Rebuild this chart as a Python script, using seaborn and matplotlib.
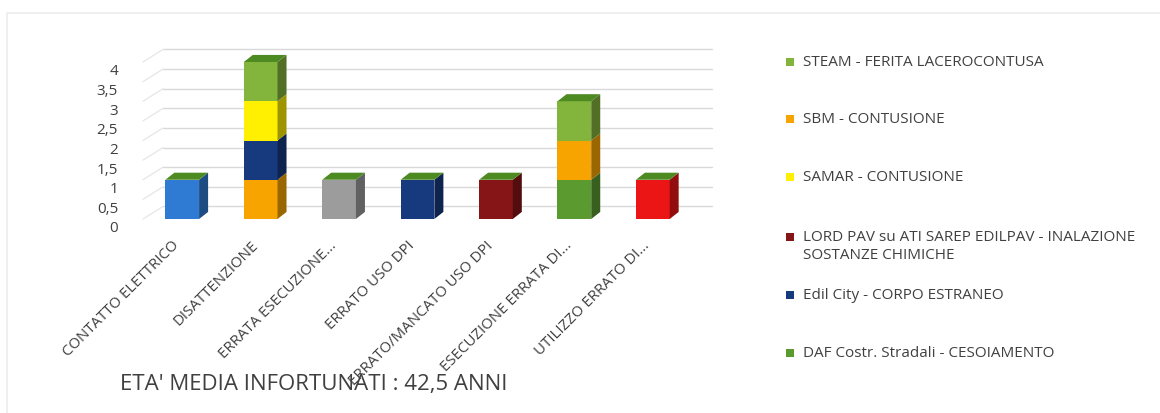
import numpy as np
import pandas as pd
import matplotlib
matplotlib.use("Agg")
import matplotlib.pyplot as plt
from matplotlib.patches import Polygon, Rectangle
import matplotlib.transforms as mtransforms
from matplotlib.colors import to_rgb
import seaborn as sns

# ---------------- data ----------------
categories = ["CONTATTO ELETTRICO", "DISATTENZIONE", "ERRATA ESECUZIONE...",
              "ERRATO USO DPI", "ERRATO/MANCATO USO DPI", "ESECUZIONE ERRATA DI...",
              "UTILIZZO ERRATO DI..."]

# series in stacking order (bottom -> top)
series_names = ["DAF Costr. Stradali - CESOIAMENTO",
                "SBM - CONTUSIONE",
                "Edil City - CORPO ESTRANEO",
                "LORD PAV su ATI SAREP EDILPAV - INALAZIONE\nSOSTANZE CHIMICHE",
                "SAMAR - CONTUSIONE",
                "STEAM - FERITA LACEROCONTUSA",
                "serie_contatto", "serie_errata", "serie_utilizzo"]
daf     = [0, 0, 0, 0, 0, 1, 0]
sbm     = [0, 1, 0, 0, 0, 1, 0]
edil    = [0, 1, 0, 1, 0, 0, 0]
lordpav = [0, 0, 0, 0, 1, 0, 0]
samar   = [0, 1, 0, 0, 0, 0, 0]
steam   = [0, 1, 0, 0, 0, 1, 0]
s_cont  = [1, 0, 0, 0, 0, 0, 0]
s_err   = [0, 0, 1, 0, 0, 0, 0]
s_util  = [0, 0, 0, 0, 0, 0, 1]
series_values = [daf, sbm, edil, lordpav, samar, steam, s_cont, s_err, s_util]
series_colors = ["#5B9A2E", "#F7A400", "#173A7E", "#861517", "#FFEF00",
                 "#83B53C", "#2F7AD2", "#9C9C9C", "#EC1515"]
legend_order = [5, 1, 4, 3, 2, 0]   # as shown in the legend (top -> bottom)

yticks = [0, 0.5, 1, 1.5, 2, 2.5, 3, 3.5, 4]
ytick_labels = ["0", "0,5", "1", "1,5", "2", "2,5", "3", "3,5", "4"]
footer = "ETA' MEDIA INFORTUNATI : 42,5 ANNI"

# ---------------- figure ----------------
sns.set_theme(style="white")
plt.rcParams["font.family"] = ["Open Sans", "DejaVu Sans"]
W, H = 1160, 414
fig = plt.figure(figsize=(W / 100, H / 100), dpi=100)
fig.patch.set_facecolor("white")

# faint chart frame
fig.patches.append(Rectangle((7 / W, -0.01), 1.1, (H - 14) / H + 0.01,
                             transform=fig.transFigure, fill=False,
                             edgecolor="#ECECEC", linewidth=1.2))

ax = fig.add_axes([143 / W, (H - 220) / H, 549 / W, 4.6 * 39.25 / H])
ax.set_facecolor("none")
ax.set_xlim(-0.5, 6.5)
ax.set_ylim(0, 4.6)
for s in ax.spines.values():
    s.set_visible(False)

bar_w = 0.43
ddx, ddy = 0.115, 0.18      # bar depth (data units)
wdx, wdy = 0.255, 0.32      # back-wall offset (data units)
grid_c = "#D9D9D9"

# gridlines on back wall + diagonal floor edge
for v in yticks:
    ax.plot([-0.5 + wdx, 6.5 + wdx], [v + wdy, v + wdy], color=grid_c, lw=1.0,
            zorder=0, clip_on=False)
    ax.plot([-0.5, -0.5 + wdx], [v, v + wdy], color="#E6E6E6", lw=0.9,
            zorder=0, clip_on=False)

def darker(c, f=0.62):
    r, g, b = to_rgb(c)
    return (r * f, g * f, b * f)

df_base = pd.DataFrame({"cat": categories})
bottoms = np.zeros(len(categories))
for name, vals, col in zip(series_names, series_values, series_colors):
    vals = np.array(vals, dtype=float)
    d = df_base.assign(val=vals)
    sns.barplot(data=d, x="cat", y="val", order=categories, color=col,
                saturation=1, width=bar_w, bottom=bottoms, ax=ax,
                edgecolor="none", linewidth=0, zorder=3)
    # side faces
    for i, v in enumerate(vals):
        if v <= 0:
            continue
        xr = i + bar_w / 2
        b, t = bottoms[i], bottoms[i] + v
        ax.add_patch(Polygon([(xr, b), (xr + ddx, b + ddy), (xr + ddx, t + ddy), (xr, t)],
                             closed=True, facecolor=darker(col), edgecolor="none",
                             zorder=3))
    bottoms = bottoms + vals

# top faces (dark green)
for i, t in enumerate(bottoms):
    xl, xr = i - bar_w / 2, i + bar_w / 2
    ax.add_patch(Polygon([(xl, t), (xr, t), (xr + ddx, t + ddy), (xl + ddx, t + ddy)],
                         closed=True, facecolor="#4E8A22", edgecolor="none", zorder=4))

# axes ticks
ax.set_xlabel("")
ax.set_ylabel("")
ax.set_yticks(yticks)
ax.set_yticklabels(ytick_labels, fontsize=11, color="#404040")
ax.tick_params(axis="y", length=0, pad=18)
ax.set_xticks(range(len(categories)))
ax.set_xticklabels(categories, rotation=45, ha="right", rotation_mode="anchor",
                   fontsize=10.8, color="#404040", va="center")
ax.tick_params(axis="x", length=0, pad=17)
off = mtransforms.ScaledTranslation(0, -7 / 100, fig.dpi_scale_trans)
for lab in ax.get_yticklabels():
    lab.set_transform(lab.get_transform() + off)
offx = mtransforms.ScaledTranslation(-5 / 100, 0, fig.dpi_scale_trans)
for lab in ax.get_xticklabels():
    lab.set_transform(lab.get_transform() + offx)

# legend (manual, to keep original spacing)
leg_y = [63, 120, 178, 238, 296, 354]
for yy, idx in zip(leg_y, legend_order):
    fig.patches.append(Rectangle((786 / W, (H - yy - 4) / H), 8 / W, 8 / H,
                                 transform=fig.transFigure,
                                 facecolor=series_colors[idx], edgecolor="none"))
    fig.text(803 / W, (H - yy + 8) / H, series_names[idx], fontsize=11,
             color="#404040", ha="left", va="top", linespacing=1.3)

fig.text(120 / W, (H - 385) / H, footer, fontsize=16, color="#404040",
         ha="left", va="center", zorder=10)

fig.savefig("out.png", dpi=100)
